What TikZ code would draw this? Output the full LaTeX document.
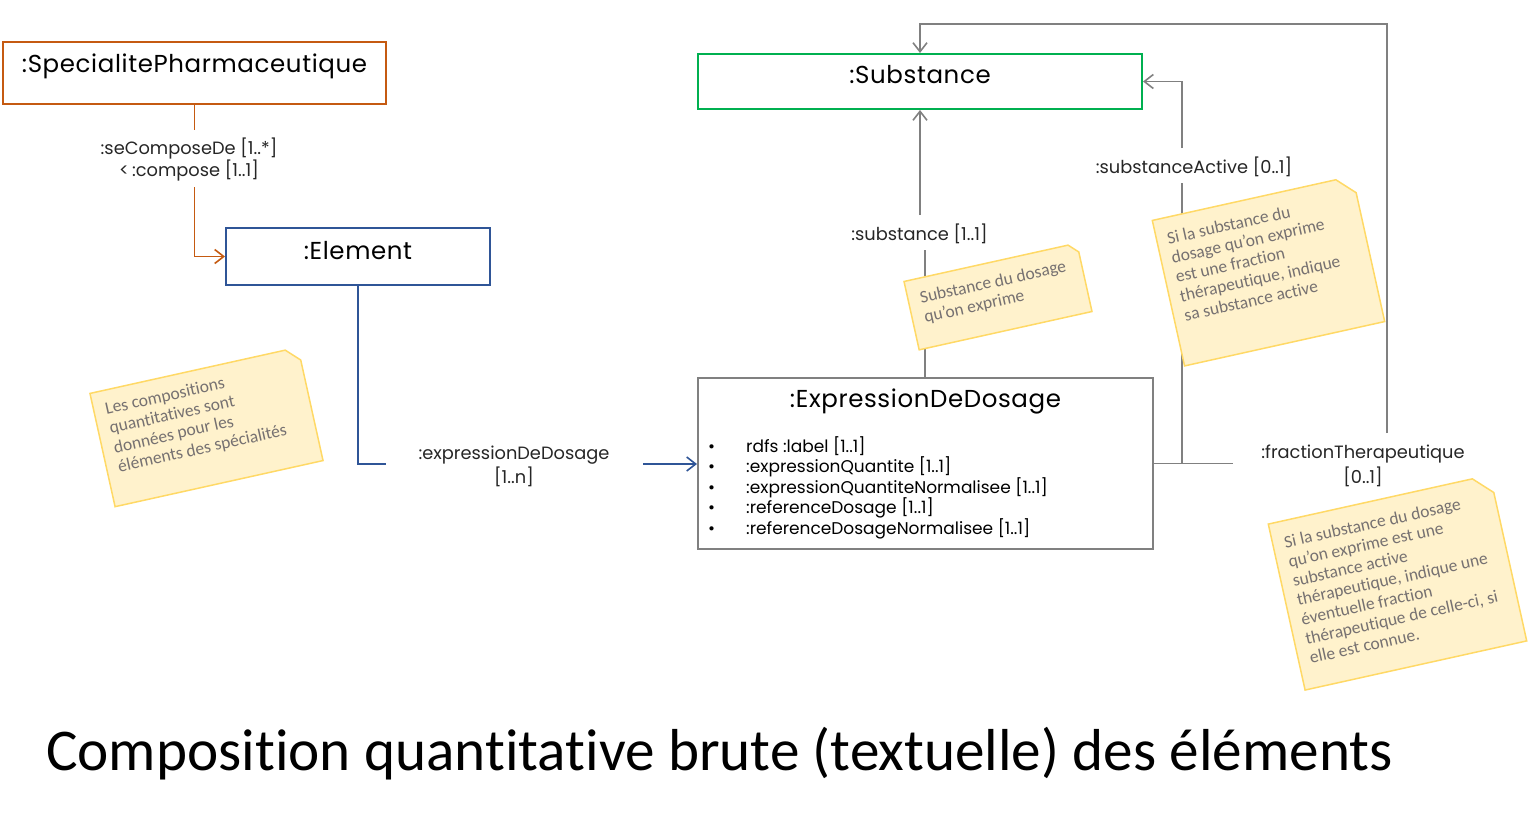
\documentclass[tikz,border=0pt]{standalone}
\usepackage{fontspec}
\setmainfont{Carlito}[Ligatures=NoCommon]
\newfontfamily\cgfont{Poppins}
\newfontfamily\cgwide{Poppins}[LetterSpace=2.5]
\usetikzlibrary{arrows.meta}
\definecolor{orng}{HTML}{C55A11}
\definecolor{blu}{HTML}{2F5597}
\definecolor{grn}{HTML}{00B050}
\definecolor{gry}{HTML}{808080}
\definecolor{notefill}{HTML}{FFF2CC}
\definecolor{noteline}{HTML}{FFD966}
\definecolor{notetxt}{HTML}{767171}
\definecolor{lbltxt}{HTML}{262626}
\begin{document}
\begin{tikzpicture}[x=1pt,y=-1pt,
  cls/.style={draw, line width=2pt, inner sep=0, fill=white},
  ctitle/.style={font=\cgwide\fontsize{24.5}{28}\selectfont, inner sep=0, text=black},
  lbl/.style={font=\cgfont\fontsize{17.8}{22}\selectfont, text=lbltxt, align=center, inner sep=0},
  attr/.style={font=\cgfont\fontsize{17}{20}\selectfont, text=black, inner sep=0, anchor=base west},
  conn/.style={line width=1.8pt},
  tip/.style={-{Straight Barb[length=9pt,width=14pt,line width=1.6pt]}},
  noteshape/.style={fill=notefill, draw=noteline, line width=1.5pt, line join=miter},
  notetext/.style={font=\fontsize{17.5}{19.7}\selectfont, text=notetxt, align=left, inner sep=0, anchor=north west},
]
\useasboundingbox (0,0) rectangle (1537,828);

% ---------- class boxes
\node[cls, draw=orng, minimum width=383, minimum height=62] (sp) at (194.5,73) {};
\node[ctitle, anchor=base] (spT) at ([yshift=-31pt]sp.north) {:SpecialitePharmaceutique};

\node[cls, draw=blu, minimum width=264, minimum height=57] (el) at (358,256.5) {};
\node[ctitle, anchor=base] (elT) at ([yshift=-32pt]el.north) {:Element};

\node[cls, draw=grn, minimum width=444, minimum height=55] (sub) at (920,81.5) {};
\node[ctitle, anchor=base] (subT) at ([yshift=-30pt]sub.north) {:Substance};

\node[cls, draw=gry, minimum width=455, minimum height=171] (exp) at (925.5,463.5) {};
\node[ctitle, anchor=base] (expT) at ([yshift=-30pt]exp.north) {:ExpressionDeDosage};
\foreach \i/\yy/\txt in {1/452/{rdfs :label [1..1]},
                         2/472.5/{:expressionQuantite [1..1]},
                         3/493/{:expressionQuantiteNormalisee [1..1]},
                         4/513.5/{:referenceDosage [1..1]},
                         5/534/{:referenceDosageNormalisee [1..1]}}{
  \node[attr] (bul\i) at (708,\yy) {\textbullet};
  \node[attr] (att\i) at (746,\yy) {\txt};
}

% ---------- labels
\node[lbl, anchor=north] (l1) at (189,138) {:seComposeDe [1..*]\\{}<\,:compose [1..1]};
\node[lbl, anchor=north, font=\cgfont\fontsize{17.8}{24}\selectfont] (l2) at (514,446) {:expressionDeDosage\\{}[1..n]};
\node[lbl, anchor=base] (l3) at (919.5,240) {:substance [1..1]};
\node[lbl, anchor=base] (l4) at (1194,173) {:substanceActive [0..1]};
\node[lbl, anchor=north, font=\cgfont\fontsize{17.8}{25}\selectfont] (l5) at (1363,445) {:fractionTherapeutique\\{}[0..1]};

% ---------- connector gap ends
\coordinate (o1) at (194.5,130);
\coordinate (o2) at (194.5,187);
\coordinate (b1) at (386,464);
\coordinate (b2) at (643,464);
\coordinate (s1a) at (925,250);
\coordinate (s1b) at (920,215);
\coordinate (sa1) at (1182,183);
\coordinate (sa2) at (1182,148);
\coordinate (ea) at (1233,463.5);
\coordinate (fa) at (1387,433);
\coordinate (ftop) at (1387,24);

% ---------- connectors
\draw[conn, orng] (sp.south) -- (o1);
\draw[conn, orng, tip] (o2) |- (el.west);

\draw[conn, blu] (el.south) |- (b1);
\draw[conn, blu, tip] (b2) -- (b2 -| exp.west);

\draw[conn, gry] (exp.north -| s1a) -- (s1a);
\draw[conn, gry, tip] (s1b) -- (sub.south);

\draw[conn, gry] (exp.east) -- (ea);
\draw[conn, gry] (sa1) -- (sa1 |- exp.east);
\draw[conn, gry, tip] (sa2) |- (sub.east);
\draw[conn, gry, tip] (fa) -- (ftop) -| (sub.north);

% ---------- notes
\begin{scope}[shift={(206.5,427)}, rotate=12.5, transform shape]
  \path[noteshape] (-106.5,-58) -- (93.5,-58) -- (106.5,-45) -- (106.5,58) -- (-106.5,58) -- cycle;
  \node[notetext] (n1) at (-95,-46) {Les compositions\\quantitatives sont\\données pour les\\éléments des spécialités};
\end{scope}

\begin{scope}[shift={(998,296.5)}, rotate=12.5, transform shape]
  \path[noteshape] (-88.5,-35) -- (79.5,-35) -- (88.5,-26) -- (88.5,35) -- (-88.5,35) -- cycle;
  \node[notetext] (n2) at (-76.5,-22) {Substance du dosage\\qu’on exprime};
\end{scope}

\begin{scope}[shift={(1268.5,271)}, rotate=12.5, transform shape]
  \path[noteshape] (-102.5,-74.5) -- (85.5,-74.5) -- (102.5,-57.5) -- (102.5,74.5) -- (-102.5,74.5) -- cycle;
  \node[notetext] (n3) at (-92,-60) {Si la substance du\\dosage qu’on exprime\\est une fraction\\thérapeutique, indique\\sa substance active};
\end{scope}

\begin{scope}[shift={(1397.5,582.5)}, rotate=12.5, transform shape]
  \path[noteshape] (-113.5,-85) -- (95.5,-85) -- (113.5,-67) -- (113.5,85) -- (-113.5,85) -- cycle;
  \node[notetext] (n4) at (-102,-70) {Si la substance du dosage\\qu’on exprime est une\\substance active\\thérapeutique, indique une\\éventuelle fraction\\thérapeutique de celle-ci, si\\elle est connue.};
\end{scope}

% ---------- title
\node[anchor=base west, inner sep=0, font=\fontsize{59.2}{63}\selectfont] (title) at (46,770) {Composition quantitative brute (textuelle) des éléments};
\end{tikzpicture}
\end{document}
